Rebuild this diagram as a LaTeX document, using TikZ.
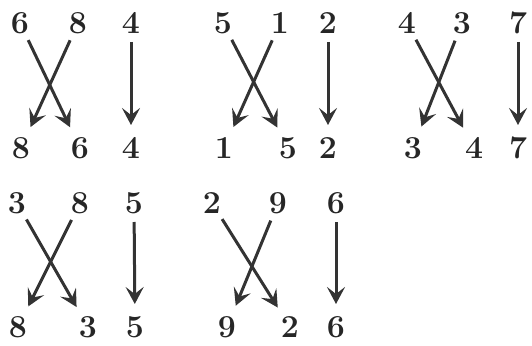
\documentclass[tikz,border=0pt]{standalone}
\usetikzlibrary{arrows.meta}
\begin{document}
\begin{tikzpicture}[x=1pt,y=-1pt,
  dig/.style={inner sep=0pt,font=\fontsize{32}{32}\selectfont\bfseries,text=black!85},
  arr/.style={draw=black!80,line width=3pt,-{Stealth[length=17pt,width=18pt,inset=7pt]},shorten <=19pt,shorten >=23pt}]
\useasboundingbox (0,0) rectangle (532,345);
% group 1
\node[dig] (a1) at (20,23) {6};
\node[dig] (a2) at (78,23) {8};
\node[dig] (a3) at (131,23) {4};
\node[dig] (a4) at (21,148) {8};
\node[dig] (a5) at (80,148) {6};
\node[dig] (a6) at (131,148) {4};
\draw[arr] (a1.center) -- (a5.center);
\draw[arr] (a2.center) -- (a4.center);
\draw[arr] (a3.center) -- (a6.center);
% group 2
\node[dig] (b1) at (223,23) {5};
\node[dig] (b2) at (280,23) {1};
\node[dig] (b3) at (328,23) {2};
\node[dig] (b4) at (224,148) {1};
\node[dig] (b5) at (288,148) {5};
\node[dig] (b6) at (328,148) {2};
\draw[arr] (b1.center) -- (b5.center);
\draw[arr] (b2.center) -- (b4.center);
\draw[arr] (b3.center) -- (b6.center);
% group 3
\node[dig] (c1) at (407,23) {4};
\node[dig] (c2) at (462,23) {3};
\node[dig] (c3) at (518,23) {7};
\node[dig] (c4) at (413,148) {3};
\node[dig] (c5) at (474,148) {4};
\node[dig] (c6) at (518,148) {7};
\draw[arr] (c1.center) -- (c5.center);
\draw[arr] (c2.center) -- (c4.center);
\draw[arr] (c3.center) -- (c6.center);
% group 4
\node[dig] (d1) at (17,203) {3};
\node[dig] (d2) at (80,203) {8};
\node[dig] (d3) at (134,203) {5};
\node[dig] (d4) at (18,327) {8};
\node[dig] (d5) at (88,327) {3};
\node[dig] (d6) at (135,327) {5};
\draw[arr] (d1.center) -- (d5.center);
\draw[arr] (d2.center) -- (d4.center);
\draw[arr] (d3.center) -- (d6.center);
% group 5
\node[dig] (e1) at (212,203) {2};
\node[dig] (e2) at (278,203) {9};
\node[dig] (e3) at (336,203) {6};
\node[dig] (e4) at (227,327) {9};
\node[dig] (e5) at (290,327) {2};
\node[dig] (e6) at (336,327) {6};
\draw[arr] (e1.center) -- (e5.center);
\draw[arr] (e2.center) -- (e4.center);
\draw[arr] (e3.center) -- (e6.center);
\end{tikzpicture}
\end{document}
